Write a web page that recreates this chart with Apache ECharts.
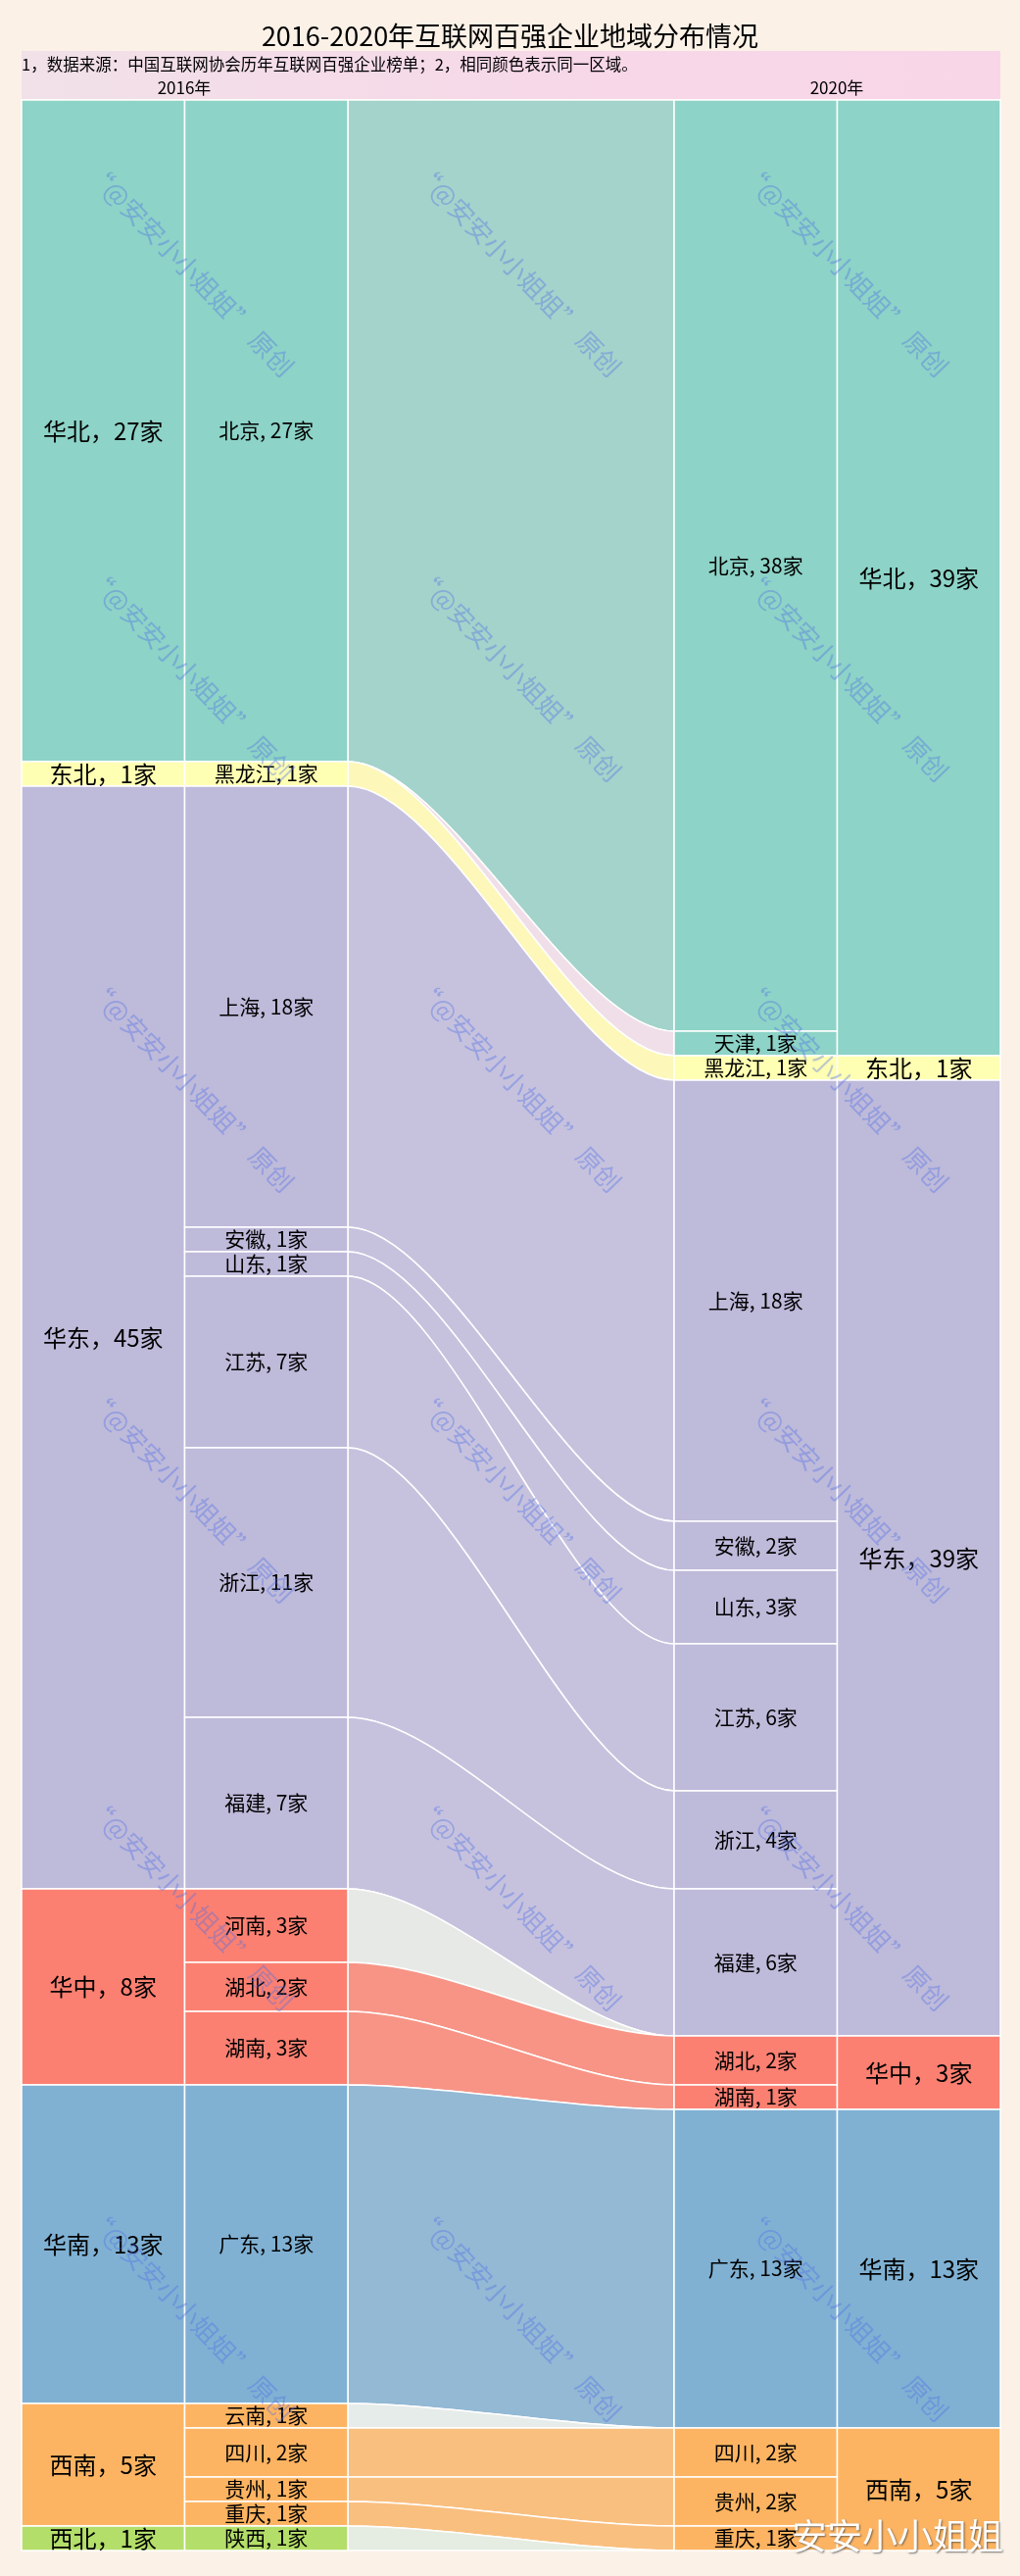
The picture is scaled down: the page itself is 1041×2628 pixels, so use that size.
<!DOCTYPE html>
<html>
<head>
<meta charset="utf-8">
<script src="https://cdn.jsdelivr.net/npm/echarts@6/dist/echarts.min.js"></script>
<style>
html, body { margin: 0; padding: 0; background: #fbf1e7; }
#chart { width: 1041px; height: 2628px; }
</style>
</head>
<body>
<div id="chart"></div>
<script>
// 两端的区域、省份（单位：家）
var regions2016 = ['华北', '东北', '华东', '华中', '华南', '西南', '西北'];
var regionValues2016 = [27, 1, 45, 8, 13, 5, 1];
var provinces2016 = ['北京', '黑龙江', '上海', '安徽', '山东', '江苏', '浙江', '福建', '河南', '湖北', '湖南', '广东', '云南', '四川', '贵州', '重庆', '陕西'];
var provinceValues2016 = [27, 1, 18, 1, 1, 7, 11, 7, 3, 2, 3, 13, 1, 2, 1, 1, 1];
var provinceRegions2016 = ['华北', '东北', '华东', '华东', '华东', '华东', '华东', '华东', '华中', '华中', '华中', '华南', '西南', '西南', '西南', '西南', '西北'];

var regions2020 = ['华北', '东北', '华东', '华中', '华南', '西南'];
var regionValues2020 = [39, 1, 39, 3, 13, 5];
var provinces2020 = ['北京', '天津', '黑龙江', '上海', '安徽', '山东', '江苏', '浙江', '福建', '湖北', '湖南', '广东', '四川', '贵州', '重庆'];
var provinceValues2020 = [38, 1, 1, 18, 2, 3, 6, 4, 6, 2, 1, 13, 2, 2, 1];
var provinceRegions2020 = ['华北', '华北', '东北', '华东', '华东', '华东', '华东', '华东', '华东', '华中', '华中', '华南', '西南', '西南', '西南'];

// 中间飘带的顺序
var ribbonOrder = ['北京', '天津', '黑龙江', '上海', '安徽', '山东', '江苏', '浙江', '福建', '河南', '湖北', '湖南', '广东', '云南', '四川', '贵州', '重庆', '陕西'];

var regionColor = { '华北': '#8dd3c7', '东北': '#ffffb3', '华东': '#bebada', '华中': '#fb8072', '华南': '#80b1d3', '西南': '#fdb462', '西北': '#b3de69' };
var ribbonColor = { '华北': '#a3d3cb', '东北': '#fdf7b9', '华东': '#c6c2de', '华中': '#f79486', '华南': '#93b9d5', '西南': '#f9bf7f' };
// 只在一端出现的省份
var ghostColor = { '天津': '#f0dfe8', '河南': '#e7e9e6', '云南': '#e6ecea', '陕西': '#e5ece2' };

var wmXs = [103, 437, 771];
var wmYs = [177, 590, 1009, 1428, 1844, 2263];

// x0, x1, 上沿, 下沿, 文字, 颜色, 字号
function makeColumn(names, values, keys, x0, fontSize, sep) {
    var out = [];
    var sum = 0;
    for (var i = 0; i < names.length; i++) {
        out.push([x0, x0 + 1, sum, sum + values[i], names[i] + sep + values[i] + '家', regionColor[keys[i]], fontSize]);
        sum += values[i];
    }
    return out;
}

function makeRibbons() {
    var out = [];
    var a = 0, b = 0;
    for (var i = 0; i < ribbonOrder.length; i++) {
        var name = ribbonOrder[i];
        var li = provinces2016.indexOf(name);
        var ri = provinces2020.indexOf(name);
        var lv = li >= 0 ? provinceValues2016[li] : 0;
        var rv = ri >= 0 ? provinceValues2020[ri] : 0;
        var clr = ghostColor[name] || ribbonColor[provinceRegions2016[li]];
        out.push([2, 4, a, a + lv, b, b + rv, clr]);
        a += lv;
        b += rv;
    }
    return out;
}

function renderNode(params, api) {
    var p0 = api.coord([api.value(0), api.value(2)]);
    var p1 = api.coord([api.value(1), api.value(3)]);
    var fs = api.value(6);
    return {
        type: 'group',
        children: [{
            type: 'rect',
            shape: { x: p0[0], y: p0[1], width: p1[0] - p0[0], height: p1[1] - p0[1] },
            style: { fill: api.value(5), stroke: '#fff', lineWidth: 1.5 }
        }, {
            type: 'text',
            x: (p0[0] + p1[0]) / 2,
            y: (p0[1] + p1[1]) / 2,
            z2: 5,
            style: {
                text: api.value(4),
                fill: '#000',
                font: fs + 'px "Noto Sans CJK SC"',
                align: 'center',
                verticalAlign: 'middle'
            }
        }]
    };
}

function renderRibbon(params, api) {
    var x0 = api.coord([api.value(0), 0])[0];
    var x1 = api.coord([api.value(1), 0])[0];
    var a0 = api.coord([0, api.value(2)])[1];
    var a1 = api.coord([0, api.value(3)])[1];
    var b0 = api.coord([0, api.value(4)])[1];
    var b1 = api.coord([0, api.value(5)])[1];
    // 控制点放在 0.3 / 0.7 处，曲线比对半更舒展
    var c0 = x0 + (x1 - x0) * 0.3;
    var c1 = x0 + (x1 - x0) * 0.7;
    var d = 'M' + x0 + ' ' + a0
        + 'C' + c0 + ' ' + a0 + ' ' + c1 + ' ' + b0 + ' ' + x1 + ' ' + b0
        + 'L' + x1 + ' ' + b1
        + 'C' + c1 + ' ' + b1 + ' ' + c0 + ' ' + a1 + ' ' + x0 + ' ' + a1 + 'Z';
    return {
        type: 'path',
        shape: { pathData: d },
        style: { fill: api.value(6), stroke: '#fff', lineWidth: 1.5 }
    };
}

function watermarks() {
    var out = [];
    for (var i = 0; i < wmXs.length; i++) {
        for (var j = 0; j < wmYs.length; j++) {
            out.push({
                type: 'text',
                x: wmXs[i] + 91,
                y: wmYs[j] + 98,
                rotation: -46 * Math.PI / 180,
                z: 50,
                style: {
                    text: '“@安安小小姐姐” 原创',
                    fill: 'rgba(80,110,230,0.38)',
                    font: '26px "Noto Sans CJK SC"',
                    align: 'center',
                    verticalAlign: 'middle'
                }
            });
        }
    }
    return out;
}

var nodeData = []
    .concat(makeColumn(regions2016, regionValues2016, regions2016, 0, 24, '，'))
    .concat(makeColumn(provinces2016, provinceValues2016, provinceRegions2016, 1, 21, ', '))
    .concat(makeColumn(provinces2020, provinceValues2020, provinceRegions2020, 4, 21, ', '))
    .concat(makeColumn(regions2020, regionValues2020, regions2020, 5, 24, '，'));

var myChart = echarts.init(document.getElementById('chart'));
var option = {
    animation: false,
    backgroundColor: '#fbf1e7',
    title: {
        text: '2016-2020年互联网百强企业地域分布情况',
        left: 'center',
        top: 18,
        textStyle: { fontFamily: 'Noto Sans CJK SC', fontSize: 27, fontWeight: 'normal', color: '#000' }
    },
    grid: { left: 22, right: 20, top: 102, bottom: 26 },
    xAxis: { type: 'value', min: 0, max: 6, show: false },
    yAxis: { type: 'value', min: 0, max: 100, inverse: true, show: false },
    graphic: [{
        type: 'rect',
        shape: { x: 22, y: 52, width: 999, height: 49 },
        z: -1,
        style: {
            fill: new echarts.graphic.LinearGradient(0, 0, 1, 0, [
                { offset: 0, color: '#f1e1e8' },
                { offset: 0.6, color: '#f7d7e8' },
                { offset: 1, color: '#f8d6e8' }
            ])
        }
    }, {
        type: 'text', x: 22, y: 66,
        style: { text: '1，数据来源：中国互联网协会历年互联网百强企业榜单；2，相同颜色表示同一区域。', fill: '#000', font: '16.5px "Noto Sans CJK SC"', verticalAlign: 'middle' }
    }, {
        type: 'text', x: 188, y: 90,
        style: { text: '2016年', fill: '#000', font: '17px "Noto Sans CJK SC"', align: 'center', verticalAlign: 'middle' }
    }, {
        type: 'text', x: 854, y: 90,
        style: { text: '2020年', fill: '#000', font: '17px "Noto Sans CJK SC"', align: 'center', verticalAlign: 'middle' }
    }, {
        type: 'text', x: 1024, y: 2587, z: 60,
        style: {
            text: '安安小小姐姐', fill: '#fff', font: '36px "Noto Sans CJK SC"', align: 'right', verticalAlign: 'middle',
            textShadowColor: 'rgba(60,60,60,0.7)', textShadowBlur: 2, textShadowOffsetX: 1, textShadowOffsetY: 1
        }
    }].concat(watermarks()),
    series: [{
        type: 'custom',
        renderItem: renderRibbon,
        clip: false,
        silent: true,
        encode: { x: 0, y: 2 },
        data: makeRibbons()
    }, {
        type: 'custom',
        renderItem: renderNode,
        clip: false,
        silent: true,
        encode: { x: 0, y: 2 },
        data: nodeData
    }]
};
myChart.setOption(option);
</script>
</body>
</html>
